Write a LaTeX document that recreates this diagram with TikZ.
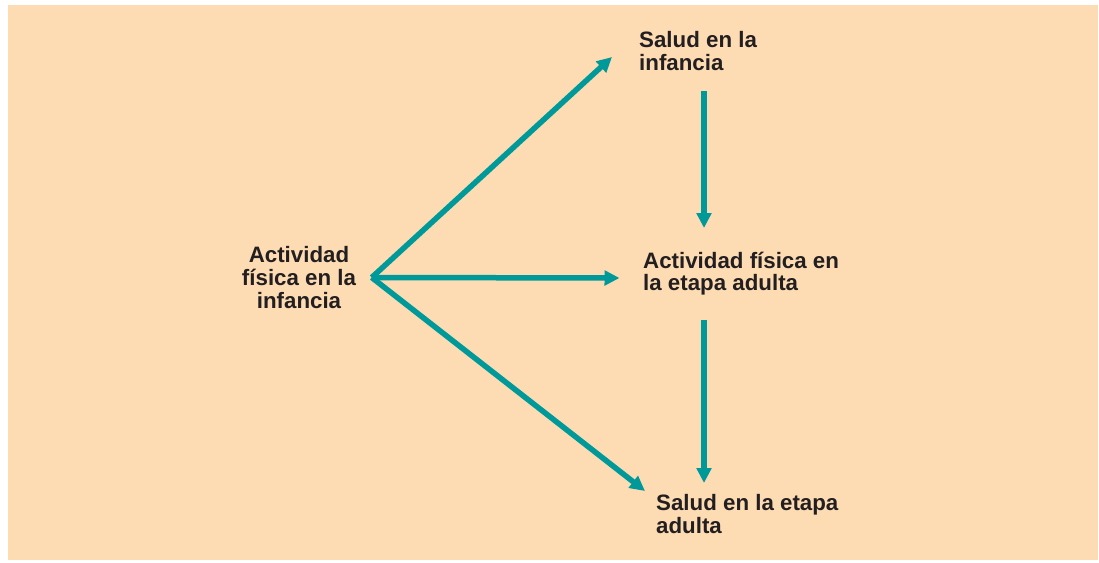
\documentclass[tikz,border=0pt]{standalone}
\usepackage{fontspec}
\setmainfont{Liberation Sans}
\usetikzlibrary{arrows.meta}
\definecolor{peach}{HTML}{FDDCB3}
\definecolor{teal}{HTML}{00999A}
\definecolor{ink}{HTML}{231F20}
\tikzset{
  lbl/.style={inner sep=0pt, text=ink, font=\fontsize{22.3pt}{22.6pt}\selectfont\bfseries},
  arr/.style={draw=teal, line width=5.5pt, -{Triangle[length=15pt,width=14.5pt]}}
}
\begin{document}
\begin{tikzpicture}[x=1pt,y=-1pt]
\useasboundingbox (0,0) rectangle (1099,562);
\fill[white] (0,0) rectangle (1099,562);
\fill[peach] (8,5) rectangle (1098,560);
\node[lbl, align=center, anchor=north, inner xsep=15.5pt] (act) at (299,246.5) {Actividad\\física en la\\infancia};
\node[lbl, align=left, anchor=north west] (si) at (639,31.5) {Salud en la\\infancia};
\node[lbl, align=left, anchor=north west] (aa) at (643,251.5) {Actividad física en\\la etapa adulta};
\node[lbl, align=left, anchor=north west] (sa) at (656,494.5) {Salud en la etapa\\adulta};
\draw[arr] (act.east) -- ([shift={(-27,25.5)}]si.north west);
\draw[arr] (act.east) -- ([shift={(-23.5,26.5)}]aa.north west);
\draw[arr] (act.east) -- ([shift={(-11,-3.5)}]sa.north west);
\draw[arr] ([shift={(65,59.5)}]si.north west) -- ([shift={(61,-23.5)}]aa.north west);
\draw[arr] ([shift={(61,68.5)}]aa.north west) -- ([shift={(48,-11.5)}]sa.north west);
\end{tikzpicture}
\end{document}
